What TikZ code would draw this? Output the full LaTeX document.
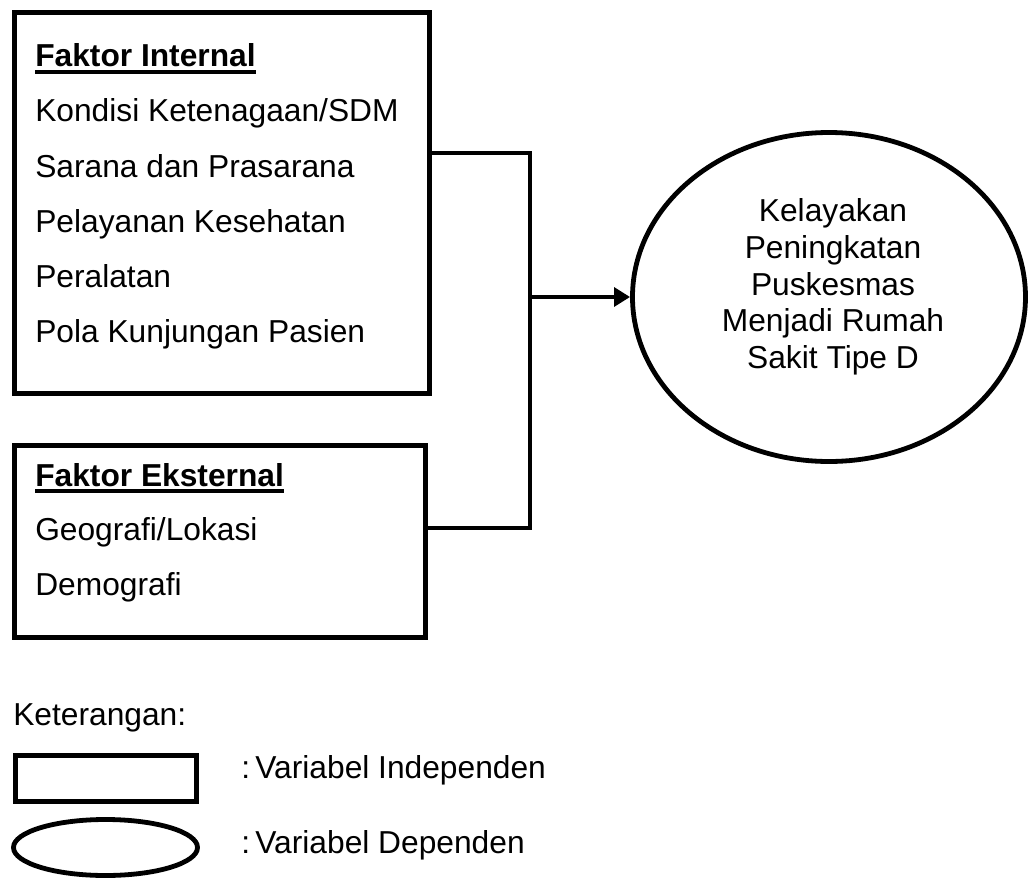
\documentclass[tikz,border=0pt]{standalone}
\usepackage{fontspec}
\setmainfont{Liberation Sans}
\usetikzlibrary{arrows.meta,shapes.geometric}
\newcommand{\headul}[1]{\setbox0\hbox{\bfseries #1}\rlap{\rule[-5.25pt]{\wd0}{3pt}}\box0}

\begin{document}
\begin{tikzpicture}[>={Triangle[length=12pt,width=14pt]},x=0.75pt,y=-0.75pt,
	every node/.style={font=\fontsize{23.8}{28}\selectfont},
	box/.style={draw,line width=3.6pt,rectangle,inner sep=0pt},
	oval/.style={draw,line width=3.6pt,ellipse,inner sep=0pt},
	item/.style={anchor=base west,inner sep=0pt},
	link/.style={line width=3.6pt}]
	\useasboundingbox (0,0) rectangle (1028,881);
	% kotak faktor internal dan eksternal
	\node[box,minimum width=311.25pt,minimum height=285.75pt] (internal) at (222,203) {};
	\node[box,minimum width=308.25pt,minimum height=144pt] (external) at (220,541.5) {};
	\node[item] (int-head) at (35,67) {\headul{Faktor Internal}};
	\foreach \txt [count=\i] in {Kondisi Ketenagaan/SDM,Sarana dan Prasarana,Pelayanan Kesehatan,Peralatan,Pola Kunjungan Pasien}
		\node[item] (int-\i) at (35,{67+55*\i}) {\txt};
	\node[item] (ext-head) at (35,486) {\headul{Faktor Eksternal}};
	\foreach \txt [count=\i] in {Geografi/Lokasi,Demografi}
		\node[item] (ext-\i) at (35,{486+54.5*\i}) {\txt};
	% variabel dependen
	\node[oval,minimum width=294.75pt,minimum height=246.75pt] (dep) at (829,297) {};
	\node[align=center,font=\fontsize{23.8}{27.5}\selectfont] (dep-txt)
		at ([xshift=3pt,yshift=7.5pt]dep.center)
		{Kelayakan\\Peningkatan\\Puskesmas\\Menjadi Rumah\\Sakit Tipe D};
	% garis penghubung
	\coordinate (top-j) at (530,153);
	\coordinate (bot-j) at (530,528);
	\coordinate (mid-j) at (530,297);
	\draw[link] (internal.east |- top-j) -- (top-j) -- (bot-j) -- (external.east |- bot-j);
	\draw[link,->] (mid-j) -- (dep.west);
	% keterangan
	\node[item] (ket) at (13,725) {Keterangan:};
	\node[box,minimum width=135.75pt,minimum height=34.5pt] (leg-box) at (106,778.5) {};
	\node[oval,minimum width=138pt,minimum height=42pt] (leg-oval) at (105.5,847.5) {};
	\node[item] (leg-box-txt) at (241,778) {:\,Variabel Independen};
	\node[item] (leg-oval-txt) at (241,853) {:\,Variabel Dependen};
\end{tikzpicture}
\end{document}
